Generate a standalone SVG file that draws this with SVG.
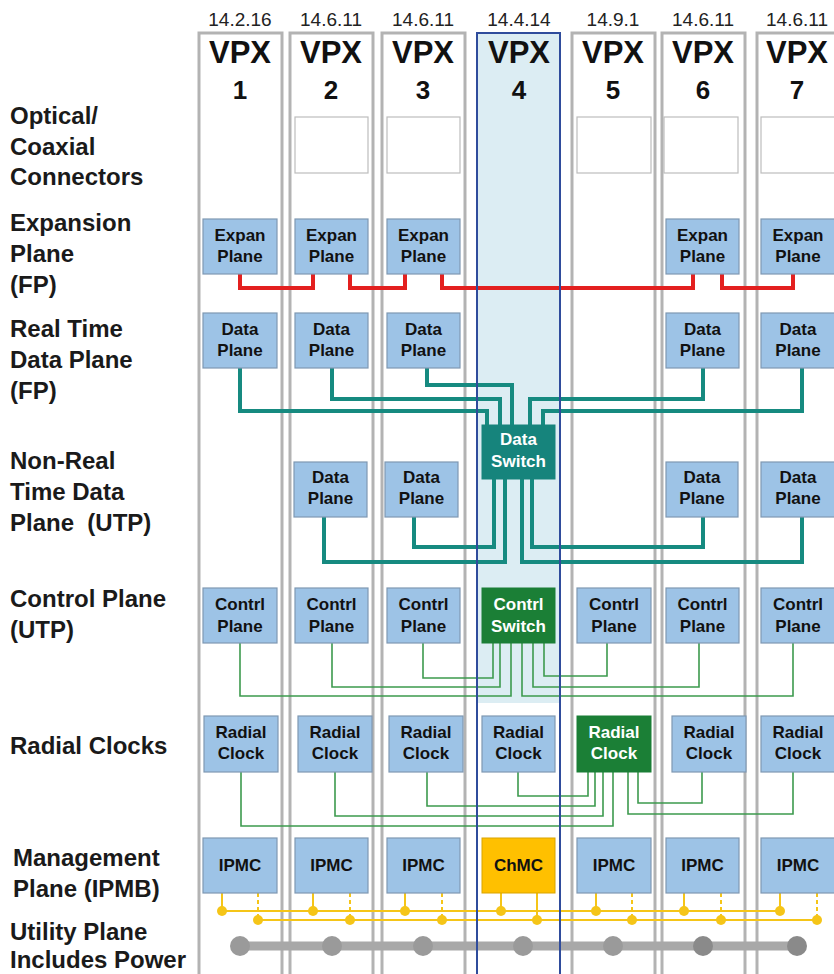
<svg xmlns="http://www.w3.org/2000/svg" width="834" height="974" viewBox="0 0 834 974">
<style>
.slot{fill:#ffffff;stroke:#b3b3b3;stroke-width:3}
.slot4{fill:#ffffff;stroke:none}
.slot4b{fill:none;stroke:#2f4c9c;stroke-width:2}
.ver{font-family:"Liberation Sans",Arial,sans-serif;font-size:19px;fill:#222;text-anchor:middle}
.vpx{font-family:"Liberation Sans",Arial,sans-serif;font-size:31px;font-weight:bold;fill:#111;text-anchor:middle}
.num{font-family:"Liberation Sans",Arial,sans-serif;font-size:26px;font-weight:bold;fill:#111;text-anchor:middle}
.lbl{font-family:"Liberation Sans",Arial,sans-serif;font-size:24px;font-weight:bold;fill:#1a1a1a}
.opt{fill:#ffffff;stroke:#bdbdbd;stroke-width:1.2}
.box{fill:#9dc3e6;stroke:#7f98b2;stroke-width:1.2}
.bt{font-family:"Liberation Sans",Arial,sans-serif;font-size:17px;font-weight:bold;fill:#111;text-anchor:middle}
.wt{font-family:"Liberation Sans",Arial,sans-serif;font-size:17px;font-weight:bold;fill:#ffffff;text-anchor:middle}
.teal{fill:#16847c;stroke:#16847c}
.green{fill:#1b7f36;stroke:#1b7f36}
.gold{fill:#ffc000;stroke:#d9a400;stroke-width:1}
.red{fill:none;stroke:#e3201f;stroke-width:4}
.tl{fill:none;stroke:#168a80;stroke-width:4}
.gl{fill:none;stroke:#3d9a4e;stroke-width:1.6}
.yl{fill:none;stroke:#f5c518;stroke-width:2}
.yd{fill:none;stroke:#f5c518;stroke-width:2;stroke-dasharray:4 3}
.dot{fill:#f5c518}
.ub{fill:none;stroke:#a8a8a8;stroke-width:9}
.uc{fill:#9a9a9a}
.uc2{fill:#8a8a8a}
</style>

<g id="slots">
<rect class="slot" x="199" y="33" width="83" height="960"/>
<rect class="slot" x="290" y="33" width="83" height="960"/>
<rect class="slot" x="382" y="33" width="83" height="960"/>
<rect class="slot4" x="477" y="33" width="83" height="960"/>
<rect x="477" y="33" width="83" height="670" fill="#dcedf3"/>
<rect class="slot" x="572" y="33" width="83" height="960"/>
<rect class="slot" x="662" y="33" width="83" height="960"/>
<rect class="slot" x="757" y="33" width="83" height="960"/>
</g>

<g id="headers">
<text class="ver" x="240" y="26">14.2.16</text>
<text class="ver" x="331" y="26">14.6.11</text>
<text class="ver" x="423" y="26">14.6.11</text>
<text class="ver" x="519" y="26">14.4.14</text>
<text class="ver" x="613" y="26">14.9.1</text>
<text class="ver" x="703" y="26">14.6.11</text>
<text class="ver" x="797" y="26">14.6.11</text>
<text class="vpx" x="240" y="63">VPX</text><text class="num" x="240" y="99">1</text>
<text class="vpx" x="331" y="63">VPX</text><text class="num" x="331" y="99">2</text>
<text class="vpx" x="423" y="63">VPX</text><text class="num" x="423" y="99">3</text>
<text class="vpx" x="519" y="63">VPX</text><text class="num" x="519" y="99">4</text>
<text class="vpx" x="613" y="63">VPX</text><text class="num" x="613" y="99">5</text>
<text class="vpx" x="703" y="63">VPX</text><text class="num" x="703" y="99">6</text>
<text class="vpx" x="797" y="63">VPX</text><text class="num" x="797" y="99">7</text>
</g>

<g id="row-labels">
<text class="lbl" x="10" y="124">Optical/</text>
<text class="lbl" x="10" y="155">Coaxial</text>
<text class="lbl" x="10" y="185">Connectors</text>
<text class="lbl" x="10" y="231">Expansion</text>
<text class="lbl" x="10" y="262">Plane</text>
<text class="lbl" x="10" y="293">(FP)</text>
<text class="lbl" x="10" y="337">Real Time</text>
<text class="lbl" x="10" y="368">Data Plane</text>
<text class="lbl" x="10" y="399">(FP)</text>
<text class="lbl" x="10" y="469">Non-Real</text>
<text class="lbl" x="10" y="500">Time Data</text>
<text class="lbl" x="10" y="531" xml:space="preserve">Plane  (UTP)</text>
<text class="lbl" x="10" y="607">Control Plane</text>
<text class="lbl" x="10" y="638">(UTP)</text>
<text class="lbl" x="10" y="754">Radial Clocks</text>
<text class="lbl" x="13" y="866">Management</text>
<text class="lbl" x="13" y="897">Plane (IPMB)</text>
<text class="lbl" x="10" y="940">Utility Plane</text>
<text class="lbl" x="10" y="968">Includes Power</text>
</g>

<g id="optical">
<rect class="opt" x="295" y="117" width="73" height="56"/>
<rect class="opt" x="387" y="117" width="73" height="56"/>
<rect class="opt" x="577" y="117" width="74" height="56"/>
<rect class="opt" x="664" y="117" width="74" height="56"/>
<rect class="opt" x="761" y="117" width="75" height="56"/>
</g>

<g id="connectors">
<path class="red" d="M240 274V288H313V274"/>
<path class="red" d="M350 274V288H405V274"/>
<path class="red" d="M442 274V288H693V274"/>
<path class="red" d="M722 274V288H793V274"/>
<path class="tl" d="M240 368V411H487V425"/>
<path class="tl" d="M332 368V399H500V425"/>
<path class="tl" d="M427 368V385H512V425"/>
<path class="tl" d="M703 368V399H530V425"/>
<path class="tl" d="M802 368V411H543V425"/>
<path class="tl" d="M324 517V562H505V479"/>
<path class="tl" d="M414 517V547H494V479"/>
<path class="tl" d="M703 517V547H532V479"/>
<path class="tl" d="M802 517V562H522V479"/>
<path class="gl" d="M240 643V696H511V643"/>
<path class="gl" d="M332 643V687H500V643"/>
<path class="gl" d="M423 643V678H493V643"/>
<path class="gl" d="M607 643V676H544V643"/>
<path class="gl" d="M699 643V687H533V643"/>
<path class="gl" d="M793 643V696H522V643"/>
<path class="gl" d="M518 772V796H588V772"/>
<path class="gl" d="M427 772V806H595V772"/>
<path class="gl" d="M335 772V816H603V772"/>
<path class="gl" d="M241 772V826H613V772"/>
<path class="gl" d="M702 772V803H638V772"/>
<path class="gl" d="M793 772V814H628V772"/>
<path class="yl" d="M222 911H780"/>
<path class="yl" d="M258 920H817"/>
<path class="yl" d="M222 893V911M313 893V911M405 893V911M501 893V911M596 893V911M684 893V911M780 893V911M537 893V920"/>
<path class="yd" d="M258 893V920M350 893V920M442 893V920M632 893V920M721 893V920M817 893V920"/>
<g class="dot">
<circle cx="222" cy="911" r="5"/><circle cx="313" cy="911" r="5"/><circle cx="405" cy="911" r="5"/><circle cx="501" cy="911" r="5"/><circle cx="596" cy="911" r="5"/><circle cx="684" cy="911" r="5"/><circle cx="780" cy="911" r="5"/>
<circle cx="258" cy="920" r="5"/><circle cx="350" cy="920" r="5"/><circle cx="442" cy="920" r="5"/><circle cx="537" cy="920" r="5"/><circle cx="632" cy="920" r="5"/><circle cx="721" cy="920" r="5"/><circle cx="817" cy="920" r="5"/>
</g>
<path class="ub" d="M240 946H797"/>
<circle class="uc" cx="240" cy="946" r="10"/><circle class="uc" cx="332" cy="946" r="10"/><circle class="uc" cx="423" cy="946" r="10"/><circle class="uc" cx="523" cy="946" r="10"/><circle class="uc" cx="613" cy="946" r="10"/><circle class="uc2" cx="703" cy="946" r="10"/><circle class="uc2" cx="797" cy="946" r="10"/>
</g>

<rect class="slot4b" x="477" y="33" width="83" height="960"/>

<g id="expan1"><rect class="box" x="203" y="219" width="74" height="55"/><text class="bt" x="240" y="241">Expan</text><text class="bt" x="240" y="262">Plane</text></g>
<g id="expan2"><rect class="box" x="295" y="219" width="73" height="55"/><text class="bt" x="331.5" y="241">Expan</text><text class="bt" x="331.5" y="262">Plane</text></g>
<g id="expan3"><rect class="box" x="387" y="219" width="73" height="55"/><text class="bt" x="423.5" y="241">Expan</text><text class="bt" x="423.5" y="262">Plane</text></g>
<g id="expan6"><rect class="box" x="666" y="219" width="73" height="55"/><text class="bt" x="702.5" y="241">Expan</text><text class="bt" x="702.5" y="262">Plane</text></g>
<g id="expan7"><rect class="box" x="761" y="219" width="74" height="55"/><text class="bt" x="798" y="241">Expan</text><text class="bt" x="798" y="262">Plane</text></g>

<g id="rtdata1"><rect class="box" x="203" y="313" width="74" height="55"/><text class="bt" x="240" y="335">Data</text><text class="bt" x="240" y="356">Plane</text></g>
<g id="rtdata2"><rect class="box" x="295" y="313" width="73" height="55"/><text class="bt" x="331.5" y="335">Data</text><text class="bt" x="331.5" y="356">Plane</text></g>
<g id="rtdata3"><rect class="box" x="387" y="313" width="73" height="55"/><text class="bt" x="423.5" y="335">Data</text><text class="bt" x="423.5" y="356">Plane</text></g>
<g id="rtdata6"><rect class="box" x="666" y="313" width="73" height="55"/><text class="bt" x="702.5" y="335">Data</text><text class="bt" x="702.5" y="356">Plane</text></g>
<g id="rtdata7"><rect class="box" x="761" y="313" width="74" height="55"/><text class="bt" x="798" y="335">Data</text><text class="bt" x="798" y="356">Plane</text></g>

<g id="dataswitch"><rect class="teal" x="482" y="425" width="73" height="54"/><text class="wt" x="518.5" y="445">Data</text><text class="wt" x="518.5" y="467">Switch</text></g>

<g id="nrtdata2"><rect class="box" x="294" y="462" width="73" height="55"/><text class="bt" x="330.5" y="483">Data</text><text class="bt" x="330.5" y="504">Plane</text></g>
<g id="nrtdata3"><rect class="box" x="385" y="462" width="73" height="55"/><text class="bt" x="421.5" y="483">Data</text><text class="bt" x="421.5" y="504">Plane</text></g>
<g id="nrtdata6"><rect class="box" x="666" y="462" width="72" height="55"/><text class="bt" x="702" y="483">Data</text><text class="bt" x="702" y="504">Plane</text></g>
<g id="nrtdata7"><rect class="box" x="761" y="462" width="74" height="55"/><text class="bt" x="798" y="483">Data</text><text class="bt" x="798" y="504">Plane</text></g>

<g id="ctrl1"><rect class="box" x="203" y="588" width="74" height="55"/><text class="bt" x="240" y="610">Contrl</text><text class="bt" x="240" y="632">Plane</text></g>
<g id="ctrl2"><rect class="box" x="295" y="588" width="73" height="55"/><text class="bt" x="331.5" y="610">Contrl</text><text class="bt" x="331.5" y="632">Plane</text></g>
<g id="ctrl3"><rect class="box" x="387" y="588" width="73" height="55"/><text class="bt" x="423.5" y="610">Contrl</text><text class="bt" x="423.5" y="632">Plane</text></g>
<g id="ctrlswitch"><rect class="green" x="482" y="588" width="73" height="55"/><text class="wt" x="518.5" y="610">Contrl</text><text class="wt" x="518.5" y="632">Switch</text></g>
<g id="ctrl5"><rect class="box" x="577" y="588" width="74" height="55"/><text class="bt" x="614" y="610">Contrl</text><text class="bt" x="614" y="632">Plane</text></g>
<g id="ctrl6"><rect class="box" x="666" y="588" width="73" height="55"/><text class="bt" x="702.5" y="610">Contrl</text><text class="bt" x="702.5" y="632">Plane</text></g>
<g id="ctrl7"><rect class="box" x="761" y="588" width="74" height="55"/><text class="bt" x="798" y="610">Contrl</text><text class="bt" x="798" y="632">Plane</text></g>

<g id="clk1"><rect class="box" x="204" y="716" width="74" height="56"/><text class="bt" x="241" y="738">Radial</text><text class="bt" x="241" y="759">Clock</text></g>
<g id="clk2"><rect class="box" x="298" y="716" width="74" height="56"/><text class="bt" x="335" y="738">Radial</text><text class="bt" x="335" y="759">Clock</text></g>
<g id="clk3"><rect class="box" x="389" y="716" width="74" height="56"/><text class="bt" x="426" y="738">Radial</text><text class="bt" x="426" y="759">Clock</text></g>
<g id="clk4"><rect class="box" x="482" y="716" width="73" height="56"/><text class="bt" x="518.5" y="738">Radial</text><text class="bt" x="518.5" y="759">Clock</text></g>
<g id="clk5"><rect class="green" x="577" y="716" width="74" height="56"/><text class="wt" x="614" y="738">Radial</text><text class="wt" x="614" y="759">Clock</text></g>
<g id="clk6"><rect class="box" x="672" y="716" width="74" height="56"/><text class="bt" x="709" y="738">Radial</text><text class="bt" x="709" y="759">Clock</text></g>
<g id="clk7"><rect class="box" x="761" y="716" width="74" height="56"/><text class="bt" x="798" y="738">Radial</text><text class="bt" x="798" y="759">Clock</text></g>

<g id="ipmc1"><rect class="box" x="203" y="838" width="74" height="55"/><text class="bt" x="240" y="871">IPMC</text></g>
<g id="ipmc2"><rect class="box" x="295" y="838" width="73" height="55"/><text class="bt" x="331.5" y="871">IPMC</text></g>
<g id="ipmc3"><rect class="box" x="387" y="838" width="73" height="55"/><text class="bt" x="423.5" y="871">IPMC</text></g>
<g id="chmc4"><rect class="gold" x="482" y="838" width="73" height="55"/><text class="bt" x="518.5" y="871">ChMC</text></g>
<g id="ipmc5"><rect class="box" x="577" y="838" width="74" height="55"/><text class="bt" x="614" y="871">IPMC</text></g>
<g id="ipmc6"><rect class="box" x="666" y="838" width="73" height="55"/><text class="bt" x="702.5" y="871">IPMC</text></g>
<g id="ipmc7"><rect class="box" x="761" y="838" width="74" height="55"/><text class="bt" x="798" y="871">IPMC</text></g>
</svg>
